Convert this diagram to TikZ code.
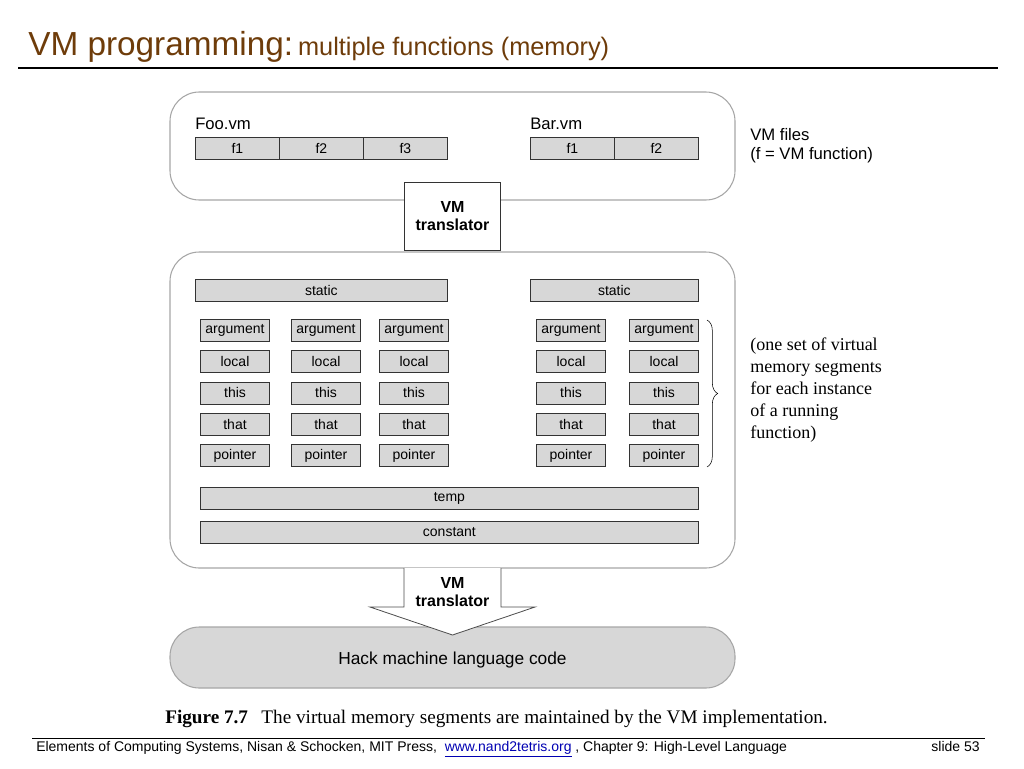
\documentclass[tikz,border=0pt]{standalone}
\usepackage{fontspec}
\setmainfont{Liberation Sans}
\newfontfamily\capfont{Liberation Serif}
\usetikzlibrary{decorations.pathreplacing}
\definecolor{titlebrown}{RGB}{110,60,10}
\definecolor{segfill}{RGB}{215,215,215}
\tikzset{
  panel/.style={draw=gray!70,rounded corners=22pt,line width=0.8pt},
  seg/.style={draw=black!80,fill=segfill,line width=0.6pt,minimum height=16.5pt,inner sep=0pt,font=\fontsize{10.5}{11}\selectfont},
  segsmall/.style={seg,minimum width=52pt},
  lab/.style={font=\fontsize{12.5}{14.5}\selectfont,anchor=west,inner sep=0pt}
}
\begin{document}
\begin{tikzpicture}[x=0.75pt,y=-0.75pt]
\useasboundingbox (0,0) rectangle (1024,768);
% title
\node[anchor=base west,inner sep=0pt,text=titlebrown] (title) at (28,55)
  {{\fontsize{25}{27}\selectfont VM programming:} {\fontsize{19}{21}\selectfont multiple functions (memory)}};
\draw[line width=1.5pt] (18,68) -- (998,68);

% VM files panel
\draw[panel] (170,92) rectangle (735,200);
\node[lab] (foo) at (195,124) {Foo.vm};
\node[lab] (bar) at (530,124) {Bar.vm};
\foreach \x/\t in {195/f1,279/f2,363/f3,530/f1,614/f2}
  \node[seg,minimum width=63pt,anchor=north west] at (\x,137) {\t};
\node[lab,align=left,anchor=north west] (files) at (750,128) {VM files\\(f = VM function)};

% memory panel
\draw[panel] (170,252) rectangle (735,568);
\node[draw=black!80,fill=white,line width=0.6pt,minimum width=72pt,minimum height=51pt,align=center,
  font=\fontsize{12}{14}\selectfont\bfseries] (trans) at (452.5,216) {VM\\translator};
\node[seg,minimum width=189pt,anchor=north west] (staticA) at (195,279) {static};
\node[seg,minimum width=126pt,anchor=north west] (staticB) at (530,279) {static};
\foreach \x in {235,326,414,571,664}
  \foreach \t [count=\i] in {argument,local,this,that,pointer}
    \node[segsmall] (s-\x-\i) at (\x,{299+31.3*\i}) {\t};
\node[seg,minimum width=373.5pt,anchor=north west] (temp) at (200,487) {temp};
\node[seg,minimum width=373.5pt,anchor=north west] (const) at (200,521) {constant};

% brace and note
\draw[decorate,decoration={brace,amplitude=8pt}] (707,320) -- (707,467);
\node[anchor=north west,align=left,inner sep=0pt,font=\capfont\fontsize{13.5}{16.5}\selectfont] (note) at (750,338)
  {(one set of virtual\\memory segments\\for each instance\\of a running\\function)};

% hack panel
\draw[panel,fill=segfill] (170,627) rectangle (735,688);
\node[font=\fontsize{13}{15}\selectfont] (hack) at (452.5,660) {Hack machine language code};

% translator arrow
\draw[draw=black!70,fill=white,line width=0.6pt] (404,568) -- (404,607) -- (370,607) -- (452.5,635)
  -- (535,607) -- (501,607) -- (501,568);
\node[align=center,font=\fontsize{12}{14}\selectfont\bfseries] (trans2) at (452.5,592) {VM\\translator};

% caption
\node[anchor=base west,inner sep=0pt,font=\capfont\fontsize{14.4}{16}\selectfont] (cap) at (165,723)
  {\textbf{Figure 7.7}\hspace{10pt}The virtual memory segments are maintained by the VM implementation.};

% footer
\draw[line width=0.5pt] (32,738) -- (985,738);
\node[anchor=base west,inner sep=0pt,font=\fontsize{10.5}{12}\selectfont] (foot) at (36,751)
  {Elements of Computing Systems, Nisan \& Schocken, MIT Press,\ \ \textcolor{blue!70!black}{\underline{www.nand2tetris.org}} , Chapter 9: High-Level Language};
\node[anchor=base east,inner sep=0pt,font=\fontsize{10.5}{12}\selectfont] (slide) at (980,751) {slide 53};
\end{tikzpicture}
\end{document}
